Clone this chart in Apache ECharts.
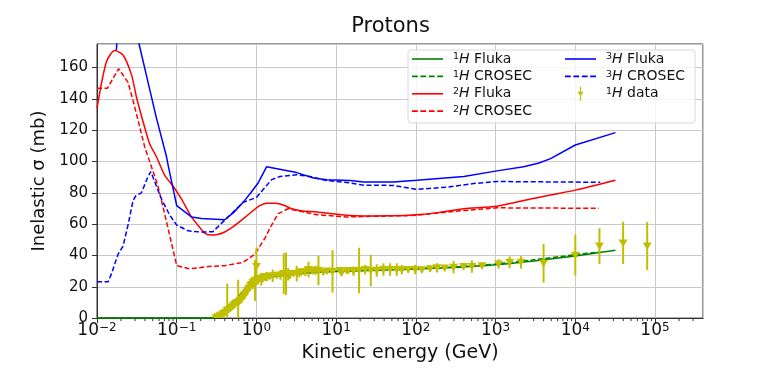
<!DOCTYPE html>
<html>
<head>
<meta charset="utf-8">
<script src="https://cdn.jsdelivr.net/npm/echarts@6/dist/echarts.min.js"></script>
<style>
  html, body { margin: 0; padding: 0; background: #fff; }
  #chart { width: 781px; height: 368px; }
</style>
</head>
<body>
<div id="chart"></div>
<script>
// [energy GeV, sigma mb]
const h1Fluka = [[0.01,0],[0.3,0],[0.35,1.5],[0.4,4],[0.5,9],[0.6,13.5],[0.7,17.5],[0.8,20.5],[1.0,23.5],[1.3,25.5],[2,27],[3,28],[5,29],[10,29.7],[20,30.2],[50,30.8],[100,31.3],[300,32.3],[1000,34],[3000,36.5],[1e4,39.7],[31900,43.3]]
const h1Crosec = [[0.01,0],[0.3,0],[0.35,1.5],[0.4,4],[0.5,9.5],[0.6,14],[0.7,18],[0.8,21],[1.0,24],[1.3,26],[2,27.5],[3,28.5],[5,29.3],[10,29.9],[20,30.4],[50,31],[100,31.5],[300,32.6],[1000,34.5],[3000,37.2],[1e4,40.5],[20600,42.3]]
const h2Fluka = [[0.01,134],[0.0131,163.5],[0.0167,170.8],[0.0212,168],[0.027,155.6],[0.0313,141],[0.04,121],[0.046,111],[0.0557,103],[0.0702,91.5],[0.0902,84.2],[0.115,76],[0.135,69.5],[0.153,64.6],[0.19,58.5],[0.225,54.3],[0.27,53],[0.316,53.2],[0.4,55],[0.512,58.4],[0.7,63.8],[0.912,68.7],[1.1,71.8],[1.34,73.3],[1.7,73.4],[1.97,72.9],[2.3,71.7],[2.77,69.8],[3.6,68.6],[5.7,67.7],[13.6,65.6],[22,65.2],[50,65.3],[103,66],[200,67.5],[400,69.8],[1040,71.4],[2730,76],[1e4,81.7],[31900,88]]
const h2Crosec = [[0.01,146.7],[0.0135,146.7],[0.0187,159.3],[0.0245,150.5],[0.0283,139],[0.0322,127.7],[0.0398,109],[0.0583,84.2],[0.0745,61.5],[0.1,33.5],[0.146,31.5],[0.248,32.9],[0.402,33.5],[0.68,35.6],[0.955,40.8],[1.28,51.1],[1.55,59.4],[1.88,66.7],[2.5,69.8],[5.7,66],[13.6,64.6],[100,65.6],[400,68.7],[1040,70.4],[19700,70.1]]
const h3Fluka = [[0.0175,171],[0.019,200],[0.032,185],[0.0337,175],[0.0437,150.5],[0.0557,127.7],[0.0745,103],[0.078,97.7],[0.1,71.8],[0.153,64.6],[0.205,63.6],[0.4,62.8],[0.52,67.5],[0.68,73.9],[0.85,80],[1.05,86.3],[1.34,96.6],[3.2,92.9],[5.2,89.4],[7.6,88.4],[15,87.8],[22,86.9],[52,86.9],[103,88],[400,90.4],[1040,94],[2250,96.6],[3500,99],[4900,101.8],[1e4,110.5],[31900,118.4]]
const h3Crosec = [[0.01,23.2],[0.0138,23.2],[0.0152,28.4],[0.0184,40.8],[0.0212,45.9],[0.0245,59.4],[0.0283,74.9],[0.0306,78],[0.0361,80],[0.0437,90.4],[0.0473,93.5],[0.0644,76],[0.082,65.6],[0.1,59.4],[0.139,55.7],[0.205,54.9],[0.285,55.2],[0.42,63.6],[0.68,73.9],[1.0,77],[1.55,88.4],[1.97,90.4],[3.2,91.5],[4.7,90.4],[7.6,87.8],[15,86.3],[22,84.9],[52,84.7],[103,82.2],[245,83.6],[530,85.9],[1040,87.2],[20600,86.7]]
// [energy GeV, sigma mb, error mb]
const h1Data = [
  [0.31,0.3,0.5],[0.33,0.8,1],[0.35,1.5,1.5],[0.37,2.2,1],[0.39,3,2],[0.41,3.8,1.5],[0.43,5,17],[0.45,5.5,2],
  [0.47,6.3,2],[0.49,7,1.5],[0.51,7.8,2],[0.53,8.7,2.5],[0.55,9.5,2],[0.57,10,2],[0.59,9.5,15],[0.62,11,2],
  [0.65,12,2.5],[0.68,13.5,2],[0.71,15,3],[0.74,16,2],[0.77,17.5,3],[0.8,19,2],[0.84,20.5,3],[0.87,21.5,2],
  [0.9,22.5,4],[0.93,23,3],[0.96,24,13],[1.0,33,12],[1.05,24.5,3],[1.1,25.3,2],[1.15,24.8,4],[1.2,25.8,3],
  [1.28,25.9,2],[1.35,26.5,3],[1.47,26.7,2],[1.6,27,4],[1.8,27.3,2],[2.0,27.5,3],[2.2,28.4,13],[2.35,28.3,13.5],
  [2.5,28,4],[2.63,27.9,3],[2.9,28.5,2],[3.2,28.4,5],[3.45,29,3],[3.7,29.4,2],[4.1,29.8,3],[4.5,31,5],
  [5.0,30,2],[5.5,30.5,3],[6.0,30.4,9.4],[6.9,29.4,2],[7.7,30,2],[9,29.8,13.5],[11.2,30.4,2],[11.7,28.8,2],
  [13.6,30.4,2],[14.2,30.4,2],[16.5,30,3],[19.4,30.4,14.5],[23.1,31,3],[27.2,30.4,10],[32.3,30.4,4],[39.2,31,4],
  [47.5,31,4],[57.6,31,4],[66.7,30.9,3],[80,31,2],[98,31,3],[119,30.9,2],[151,31.5,2],[184,32.1,3],
  [230,32,2],[297,32.5,4],[396,32.9,2],[505,32.9,4],[676,33.5,2],[1090,34.6,3],[1500,35.6,3.8],[2080,35.6,4],
  [4000,35,12.3],[1e4,40.2,13],[20100,46,11.4],[39800,48,13.5],[79800,46,15.3]
]
const minorMantissas = [2,3,4,5,6,7,8,9]
const decades = [-2,-1,0,1,2,3,4,5]
const minorTicks = []
decades.forEach((d) => minorMantissas.forEach((m) => {
  const v = m * Math.pow(10, d)
  if (v < 4e5) minorTicks.push([v])
}))

const FONT = 'DejaVu Sans'
const YEL = '#bfbf00'
const SOLID_ICON = 'path://M0,0 L31,0 L31,1.6 L0,1.6 Z'
const DASH_ICON = 'path://M0,0 h5.5 v1.6 h-5.5 Z M8,0 h5.5 v1.6 h-5.5 Z M16,0 h5.5 v1.6 h-5.5 Z M24,0 h5.5 v1.6 h-5.5 Z'
const DATA_ICON = 'path://M2.4,0 L3.6,0 L3.6,14 L2.4,14 Z M0,5 L6,5 L3,9.5 Z'

const supName = (n) => `{s|${n[0]}}{i|H} ${n.slice(3)}`

const lineSeries = (name, data, color, dashed, smooth) => ({
  name, type: 'line', data, symbol: 'none', showSymbol: false, clip: true, z: 3,
  smooth: smooth || false,
  lineStyle: { color, width: 1.5, type: dashed ? [5, 2.5] : 'solid' },
  itemStyle: { color }
})

const chart = echarts.init(document.getElementById('chart'), null, { renderer: 'canvas' })

const legendText = {
  fontFamily: FONT, fontSize: 14, color: '#111',
  rich: {
    s: { fontFamily: FONT, fontSize: 9.5, verticalAlign: 'top', padding: [0, 0, 0, 5] },
    i: { fontFamily: FONT, fontSize: 14, fontStyle: 'italic' }
  }
}

const option = {
  animation: false,
  backgroundColor: '#fff',
  title: {
    text: 'Protons', left: 'center', top: 11,
    textStyle: { fontFamily: FONT, fontSize: 21, fontWeight: 'normal', color: '#111' }
  },
  grid: {
    left: 97, right: 78, top: 44, bottom: 42,
    show: true, borderColor: '#333', borderWidth: 1
  },
  graphic: [{
    type: 'rect', z: 20, shape: { x: 408, y: 50, width: 287, height: 73, r: 3 },
    style: { fill: 'rgba(255,255,255,0.8)', stroke: '#d8d8d8', lineWidth: 1 }
  }],
  legend: [{
    z: 30, left: 412, top: 52, orient: 'vertical', padding: 0,
    itemWidth: 31, itemHeight: 14, itemGap: 3.4,
    data: [
      { name: '1H Fluka', icon: SOLID_ICON },
      { name: '1H CROSEC', icon: DASH_ICON },
      { name: '2H Fluka', icon: SOLID_ICON },
      { name: '2H CROSEC', icon: DASH_ICON }
    ],
    formatter: supName, textStyle: legendText
  }, {
    z: 30, left: 565, top: 52, orient: 'vertical', padding: 0,
    itemWidth: 31, itemHeight: 14, itemGap: 3.4,
    data: [
      { name: '3H Fluka', icon: SOLID_ICON },
      { name: '3H CROSEC', icon: DASH_ICON },
      { name: '1H data', icon: DATA_ICON }
    ],
    formatter: supName, textStyle: legendText
  }],
  xAxis: {
    type: 'log', min: 0.01, max: 4e5, logBase: 10,
    name: 'Kinetic energy (GeV)', nameLocation: 'middle', nameGap: 22,
    nameTextStyle: { fontFamily: FONT, fontSize: 19, color: '#111' },
    axisLine: { show: true, lineStyle: { color: '#333', width: 1 } },
    axisTick: { show: true, inside: false, length: 5, lineStyle: { color: '#333' } },
    splitLine: { show: true, lineStyle: { color: '#c9c9c9', width: 1 } },
    axisLabel: {
      margin: 4, showMaxLabel: false,
      formatter: (v) => {
        const e = Math.log10(v)
        if (Math.abs(e - Math.round(e)) > 1e-6) return ''
        const r = Math.round(e)
        return `{b|10}{e|${r < 0 ? '\u2212' + (-r) : r}}`
      },
      rich: {
        b: { fontFamily: FONT, fontSize: 17, color: '#111' },
        e: { fontFamily: FONT, fontSize: 12, color: '#111', verticalAlign: 'top' }
      }
    }
  },
  yAxis: {
    type: 'value', min: 0, max: 175, interval: 20,
    name: 'Inelastic \u03c3 (mb)', nameLocation: 'middle', nameGap: 48, nameRotate: 90,
    nameTextStyle: { fontFamily: FONT, fontSize: 18, color: '#111' },
    axisLine: { show: true, lineStyle: { color: '#333', width: 1 } },
    axisTick: { show: true, inside: false, length: 5, lineStyle: { color: '#333' } },
    splitLine: { show: true, lineStyle: { color: '#c9c9c9', width: 1 } },
    axisLabel: {
      margin: 9, showMaxLabel: false, fontFamily: FONT, fontSize: 15, color: '#111',
      formatter: (v) => (v % 20 === 0 ? String(v) : '')
    }
  },
  series: [
    lineSeries('1H Fluka', h1Fluka, '#008000', false, 0.2),
    lineSeries('1H CROSEC', h1Crosec, '#008000', true, 0.2),
    lineSeries('2H Fluka', h2Fluka, '#ff0000', false, 0.25),
    lineSeries('2H CROSEC', h2Crosec, '#ff0000', true, false),
    lineSeries('3H Fluka', h3Fluka, '#0000ff', false, false),
    lineSeries('3H CROSEC', h3Crosec, '#0000ff', true, false),
    {
      name: '1H data', type: 'custom', z: 5, clip: true,
      itemStyle: { color: YEL },
      encode: { x: 0, y: 1 },
      data: h1Data,
      renderItem: (params, api) => {
        const x = api.value(0), y = api.value(1), e = api.value(2)
        const top = api.coord([x, Math.min(y + e, 175)])
        const bot = api.coord([x, Math.max(y - e, 0)])
        const c = api.coord([x, y])
        return {
          type: 'group',
          children: [
            { type: 'line', shape: { x1: top[0], y1: top[1], x2: bot[0], y2: bot[1] }, style: { stroke: YEL, lineWidth: 2 } },
            { type: 'polygon', shape: { points: [[c[0] - 4.5, c[1] - 3.5], [c[0] + 4.5, c[1] - 3.5], [c[0], c[1] + 4]] }, style: { fill: YEL } }
          ]
        }
      }
    },
    {
      name: 'minor', type: 'custom', silent: true, z: 1,
      data: minorTicks,
      encode: { x: 0 },
      renderItem: (params, api) => {
        const p = api.coord([api.value(0), 0])
        return { type: 'line', shape: { x1: p[0], y1: p[1], x2: p[0], y2: p[1] + 3 }, style: { stroke: '#333', lineWidth: 1 } }
      }
    }
  ]
}

chart.setOption(option)
</script>
</body>
</html>
